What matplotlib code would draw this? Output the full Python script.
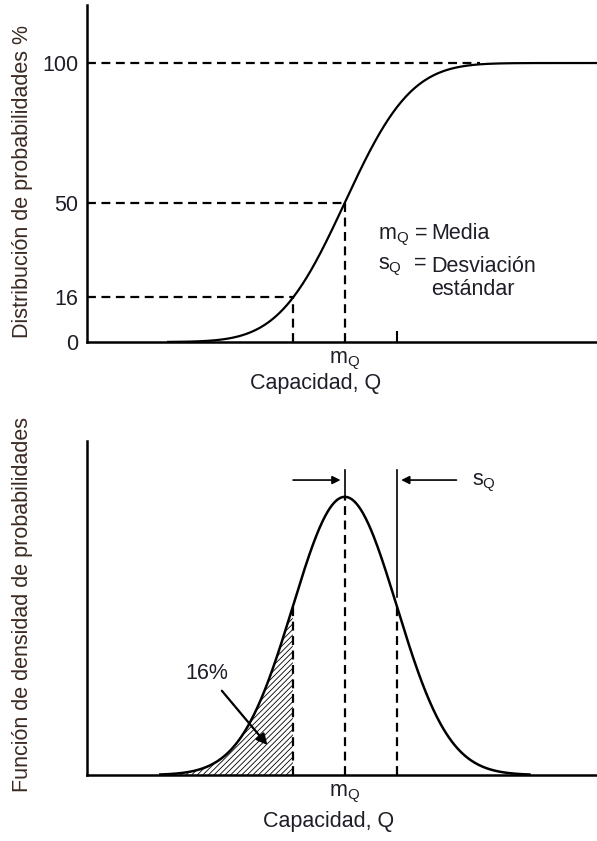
import math
import numpy as np
import matplotlib
matplotlib.use("Agg")
import matplotlib.pyplot as plt

plt.rcParams['font.family'] = ['Liberation Sans', 'DejaVu Sans']
plt.rcParams['mathtext.fontset'] = 'custom'
plt.rcParams['mathtext.rm'] = 'Liberation Sans'
plt.rcParams['mathtext.it'] = 'Liberation Sans'
plt.rcParams['hatch.color'] = '#888888'
plt.rcParams['hatch.linewidth'] = 0.6

# --- data (conceptual normal distribution of capacity Q) ---
mean_q = 0.0
std_q = 1.0
cdf_levels = [0, 16, 50, 100]          # percent marks on the upper y axis
cdf_labels = ['0', '16', '50', '100']
shaded_share = '16%'

x_lo, x_hi = -4.96, 4.85               # visible capacity range, in std units

txt = '#1e1e28'
lab = '#3a2a22'
fs = 15.5


def norm_cdf(x):
    return 0.5 * (1 + np.vectorize(math.erf)((x - mean_q) / (std_q * math.sqrt(2))))


def norm_pdf(x):
    return np.exp(-0.5 * ((x - mean_q) / std_q) ** 2) / (std_q * math.sqrt(2 * math.pi))


fig = plt.figure(figsize=(5.97, 8.41), dpi=100)

# ---------------- upper panel: cumulative distribution ----------------
ax1 = fig.add_axes([87 / 597, 499 / 841, 510 / 597, 337 / 841])
xc = np.linspace(mean_q - 3.4 * std_q, x_hi, 400)
ax1.plot(xc, 100 * norm_cdf(xc), color='black', lw=1.6)

dash = dict(color='black', lw=1.6, ls=(0, (4, 2.5)))
ax1.plot([x_lo, mean_q + 2.6 * std_q], [100, 100], **dash)
ax1.plot([x_lo, mean_q], [50, 50], **dash)
ax1.plot([x_lo, mean_q - std_q], [16, 16], **dash)
ax1.plot([mean_q, mean_q], [0, 50], **dash)
ax1.plot([mean_q - std_q, mean_q - std_q], [0, 16], **dash)

ax1.set_xlim(x_lo, x_hi)
ax1.set_ylim(0, 120.8)
ax1.set_yticks(cdf_levels)
ax1.set_yticklabels(cdf_labels, fontsize=fs, color=txt)
ax1.set_xticks([mean_q])
ax1.set_xticklabels([r'$\mathrm{m_Q}$'], fontsize=fs, color=txt)
ax1.set_xticks([mean_q + std_q], minor=True)
ax1.tick_params(axis='both', which='major', length=0, pad=6)
ax1.tick_params(axis='x', which='minor', direction='in', length=8, width=1.5)
ax1.spines['top'].set_visible(False)
ax1.spines['right'].set_visible(False)
for s in ('left', 'bottom'):
    ax1.spines[s].set_linewidth(1.8)
ax1.set_ylabel('Distribución de probabilidades %', fontsize=fs, color=lab)
ax1.yaxis.set_label_coords(-0.105, 0.475)

ax1.text(0.57, 0.305, r'$\mathrm{m_Q}$ =', transform=ax1.transAxes, fontsize=fs, color=txt)
ax1.text(0.675, 0.305, 'Media', transform=ax1.transAxes, fontsize=fs, color=txt)
ax1.text(0.57, 0.215, r'$\mathrm{s_Q}$  =', transform=ax1.transAxes, fontsize=fs, color=txt)
ax1.text(0.675, 0.14, 'Desviación\nestándar', transform=ax1.transAxes, fontsize=fs,
         color=txt, linespacing=1.1)

fig.text(316 / 597, 1 - 383 / 841, 'Capacidad, Q', ha='center', va='center',
         fontsize=fs, color=txt)

# ---------------- lower panel: probability density ----------------
ax2 = fig.add_axes([87 / 597, 66 / 841, 510 / 597, 334 / 841])
xp = np.linspace(mean_q - 3.55 * std_q, mean_q + 3.55 * std_q, 400)
ax2.plot(xp, norm_pdf(xp), color='black', lw=1.8)

xs = np.linspace(mean_q - 3.55 * std_q, mean_q - std_q, 200)
ax2.fill_between(xs, 0, norm_pdf(xs), facecolor='none', hatch='//////', lw=0)

ax2.plot([mean_q, mean_q], [0, norm_pdf(mean_q)], **dash)
ax2.plot([mean_q - std_q] * 2, [0, norm_pdf(mean_q - std_q)], **dash)
ax2.plot([mean_q + std_q] * 2, [0, norm_pdf(mean_q + std_q)], **dash)

# std bracket with arrows
y_arr = 0.423
ax2.plot([mean_q, mean_q], [norm_pdf(mean_q), 0.438], color='black', lw=1.2)
ax2.plot([mean_q + std_q] * 2, [0.255, 0.438], color='black', lw=1.2)
ax2.annotate('', xy=(mean_q - 0.03, y_arr), xytext=(mean_q - 1.05, y_arr),
             arrowprops=dict(arrowstyle='-|>', color='black', lw=1.2, mutation_scale=12))
ax2.annotate('', xy=(mean_q + std_q + 0.03, y_arr), xytext=(mean_q + 2.2, y_arr),
             arrowprops=dict(arrowstyle='-|>', color='black', lw=1.2, mutation_scale=12))
ax2.text(mean_q + 2.45, y_arr - 0.004, r'$\mathrm{s_Q}$', fontsize=fs, color=txt, va='center')

ax2.annotate(shaded_share, xy=(mean_q - 1.49, 0.043), xytext=(mean_q - 2.65, 0.146),
             fontsize=fs, color=txt, ha='center', va='center',
             arrowprops=dict(arrowstyle='-|>', color='black', lw=1.6,
                             mutation_scale=16, shrinkA=4, shrinkB=0))

ax2.set_xlim(x_lo, x_hi)
ax2.set_ylim(0, 0.479)
ax2.set_yticks([])
ax2.set_xticks([mean_q])
ax2.set_xticklabels([r'$\mathrm{m_Q}$'], fontsize=fs, color=txt)
ax2.tick_params(axis='x', length=0, pad=6)
ax2.spines['top'].set_visible(False)
ax2.spines['right'].set_visible(False)
for s in ('left', 'bottom'):
    ax2.spines[s].set_linewidth(1.8)
ax2.set_ylabel('Función de densidad de probabilidades', fontsize=fs, color=lab)
ax2.yaxis.set_label_coords(-0.105, 0.51)

fig.text(329 / 597, 1 - 822 / 841, 'Capacidad, Q', ha='center', va='center',
         fontsize=fs, color=txt)

fig.savefig('out.png', dpi=100)
